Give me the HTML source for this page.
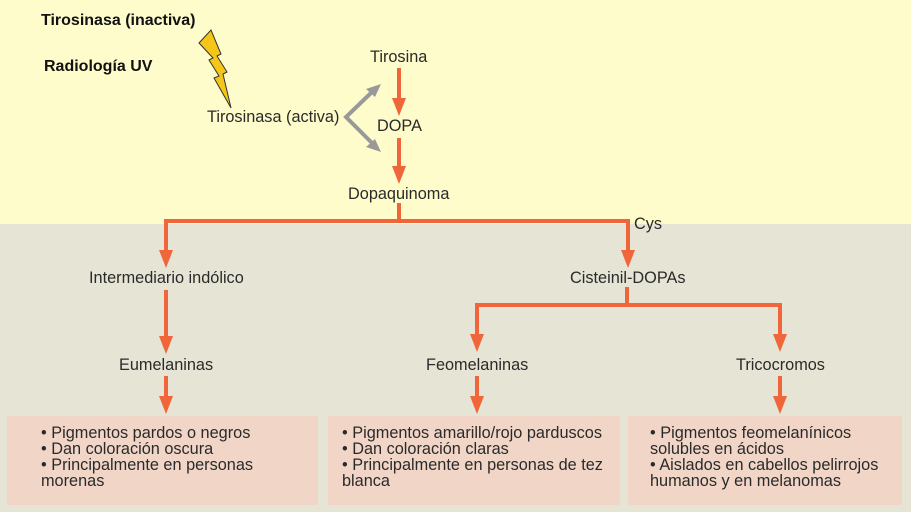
<!DOCTYPE html>
<html><head><meta charset="utf-8"><style>
body{margin:0;width:911px;height:512px;overflow:hidden;font-family:"Liberation Sans",sans-serif}
svg text{font-family:"Liberation Sans",sans-serif;font-size:16.3px;fill:#2a2a2a}
.b{font-weight:bold;fill:#111;font-size:16px}
</style></head><body>
<svg width="911" height="512" xmlns="http://www.w3.org/2000/svg">
<rect x="0" y="0" width="911" height="224" fill="#fefccb"/>
<rect x="0" y="224" width="911" height="288" fill="#e6e5d5"/>
<rect x="7" y="416" width="311" height="89" fill="#f1d6c8"/>
<rect x="328" y="416" width="292" height="89" fill="#f1d6c8"/>
<rect x="628" y="416" width="274" height="89" fill="#f1d6c8"/>
<text x="41" y="25" class="b">Tirosinasa (inactiva)</text>
<text x="44" y="71" class="b">Radiología UV</text>
<polygon points="199,43 211,30 221,54 217,56 227,72 223,74 231,108 214,78 219,76 209,60 213,58" fill="#f5c518" stroke="#333" stroke-width="1"/>
<text x="207" y="122">Tirosinasa (activa)</text>
<text x="370" y="62">Tirosina</text>
<text x="377" y="131">DOPA</text>
<text x="348" y="199">Dopaquinoma</text>
<g stroke="#999" stroke-width="4" fill="none" stroke-linecap="round">
<polyline points="372,92 346,117 372,143"/>
</g>
<polygon points="381,84 366,89 375,97" fill="#999"/>
<polygon points="381,152 366,147 375,139" fill="#999"/>
<g stroke="#f0663a" stroke-width="4" fill="none">
<line x1="399" y1="68" x2="399" y2="104"/>
<line x1="399" y1="138" x2="399" y2="172"/>
<polyline points="399,203 399,221"/>
<polyline points="166,255 166,221 628,221 628,255"/>
<line x1="166" y1="290" x2="166" y2="342"/>
<line x1="166" y1="376" x2="166" y2="402"/>
<polyline points="627,287 627,305"/>
<polyline points="477,340 477,305 780,305 780,340"/>
<line x1="477" y1="376" x2="477" y2="402"/>
<line x1="780" y1="376" x2="780" y2="402"/>
</g>
<g fill="#f0663a">
<polygon points="392,98 406,98 399,116"/>
<polygon points="392,166 406,166 399,184"/>
<polygon points="159,250 173,250 166,268"/>
<polygon points="621,250 635,250 628,268"/>
<polygon points="159,336 173,336 166,354"/>
<polygon points="159,396 173,396 166,414"/>
<polygon points="470,334 484,334 477,352"/>
<polygon points="773,334 787,334 780,352"/>
<polygon points="470,396 484,396 477,414"/>
<polygon points="773,396 787,396 780,414"/>
</g>
<text x="634" y="229">Cys</text>
<text x="89" y="283">Intermediario indólico</text>
<text x="570" y="283">Cisteinil-DOPAs</text>
<text x="119" y="370">Eumelaninas</text>
<text x="426" y="370">Feomelaninas</text>
<text x="736" y="370">Tricocromos</text>
<g>
<text x="41" y="438">• Pigmentos pardos o negros</text>
<text x="41" y="454">• Dan coloración oscura</text>
<text x="41" y="470">• Principalmente en personas</text>
<text x="41" y="486">morenas</text>
<text x="342" y="438">• Pigmentos amarillo/rojo parduscos</text>
<text x="342" y="454">• Dan coloración claras</text>
<text x="342" y="470">• Principalmente en personas de tez</text>
<text x="342" y="486">blanca</text>
<text x="650" y="438">• Pigmentos feomelanínicos</text>
<text x="650" y="454">solubles en ácidos</text>
<text x="650" y="470">• Aislados en cabellos pelirrojos</text>
<text x="650" y="486">humanos y en melanomas</text>
</g>
</svg>
</body></html>
